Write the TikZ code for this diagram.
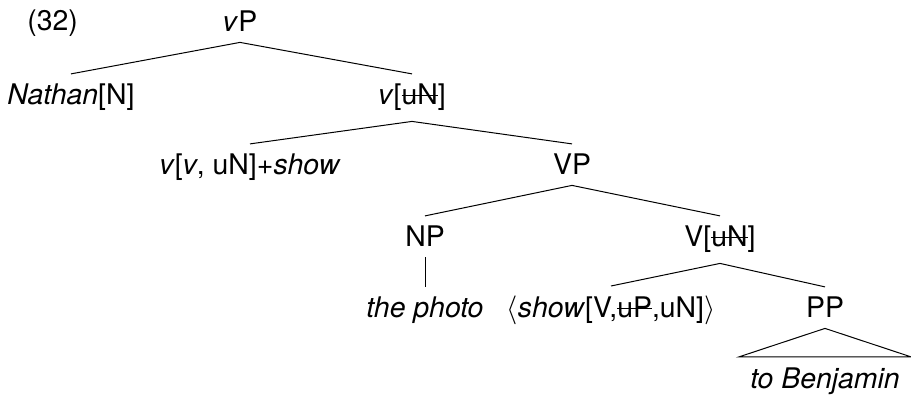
\documentclass[tikz,border=0pt]{standalone}
\usepackage{fontspec}
\setmainfont{TeX Gyre Heros}
\usepackage{tikz}

% struck-out feature
\newcommand\strk[1]{\setbox0\hbox{#1}\leavevmode\rlap{\rule[0.31em]{\wd0}{0.5pt}}\box0}

\begin{document}
\begin{tikzpicture}[
  every node/.style={font=\fontsize{14.2pt}{17pt}\selectfont, anchor=base,
    inner xsep=1pt, inner ysep=5pt},
  branch/.style={line width=0.5pt},
  roof/.style={inner xsep=5.5pt}
]
  \useasboundingbox (0,0) rectangle (455.5pt,-197.5pt);

  % Nodes
  \node (ex) [anchor=base west] at (12.5pt,-15.5pt) {(32)};
  \node (vP) at (120pt,-16pt) {\textit{v}P};
  \node (Nathan) [xshift=-84.5pt, yshift=-36.5pt] at (vP.base) {\textit{Nathan}[N]};
  \node (vbar) [xshift=86pt, yshift=-36.5pt] at (vP.base) {\textit{v}[\strk{uN}]};

  % v head and VP below vbar
  \node (vhead) [xshift=-81pt, yshift=-35pt] at (vbar.base) {\textit{v}[\textit{v}, uN]+\textit{show}};
  \node (VP) [xshift=80pt, yshift=-35pt] at (vbar.base) {VP};

  \node (NP) [xshift=-73.5pt, yshift=-36pt] at (VP.base) {NP};
  \node (Vbar) [xshift=74pt, yshift=-36pt] at (VP.base) {V[\strk{uN}]};

  \node (photo) [yshift=-35.5pt] at (NP.base) {\textit{the photo}};
  \node (Vhead) [xshift=-54.5pt, yshift=-35.5pt] at (Vbar.base) {$\langle$\textit{show}[V,\strk{uP},uN]$\rangle$};
  \node (PP) [xshift=52.5pt, yshift=-35.5pt] at (Vbar.base) {PP};

  % Roofed PP
  \node (Benjamin) [roof, yshift=-35pt] at (PP.base) {\textit{to Benjamin}};

  % Edges
  \draw [branch] (vP.south) -- (Nathan.north);
  \draw [branch] (vP.south) -- (vbar.north);
  \draw [branch] (vbar.south) -- (vhead.north);
  \draw [branch] (vbar.south) -- (VP.north);
  \draw [branch] (VP.south) -- (NP.north);
  \draw [branch] (VP.south) -- (Vbar.north);
  \draw [branch] (NP.south) -- (photo.north);
  \draw [branch] (Vbar.south) -- (Vhead.north);
  \draw [branch] (Vbar.south) -- (PP.north);
  \draw [branch] (PP.south) -- (Benjamin.north west) -- (Benjamin.north east) -- cycle;
\end{tikzpicture}
\end{document}
